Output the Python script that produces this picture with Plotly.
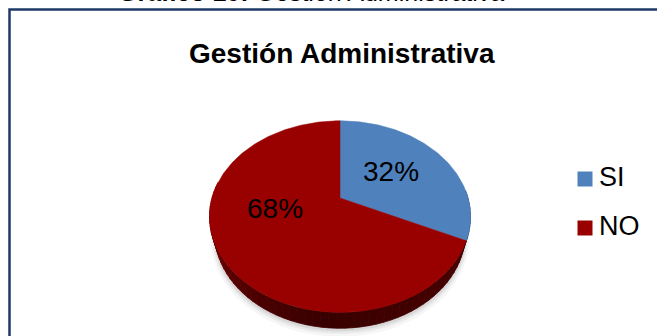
import numpy as np
import plotly.graph_objects as go

# ---- data ----
categories = ["SI", "NO"]
values = [32, 68]
value_labels = ["32%", "68%"]
chart_title = "Gestión Administrativa"
figure_caption = "<b>Gráfico 10:</b> Gestión Administrativa"

# ---- styles ----
top_colors = ["#4F81BD", "#990000"]
side_color_stops = {
    "SI": ([85, 120], ["#3a5f8c", "#2e4d73"]),
    "NO": ([100, 150, 185, 215, 260, 280], ["#4a0000", "#420000", "#380000", "#4c0000", "#760000", "#7a0000"]),
}
FONT = "Arial, Liberation Sans, sans-serif"
W, H = 657, 336

# ---- perspective projection of the pie disk ----
CX, CY = 340.0, 198.0
K, D = 457.0, 3.57
SN = 0.72
CS = np.sqrt(1 - SN ** 2)
THICK = 0.204


def proj(theta, up=0.0, r=1.0):
    X = r * np.sin(theta)
    Z = r * np.cos(theta)
    yc = up * CS + Z * SN
    depth = D + Z * CS - up * SN
    return CX + K * X / depth, CY - K * yc / depth


def hex2rgb(h):
    h = h.lstrip("#")
    return np.array([int(h[i:i + 2], 16) for i in (0, 2, 4)], dtype=float)


def interp_color(deg, stops, cols):
    rgbs = np.array([hex2rgb(c) for c in cols])
    r = [np.interp(deg, stops, rgbs[:, k]) for k in range(3)]
    return "rgb(%d,%d,%d)" % tuple(int(round(v)) for v in r)


fig = go.Figure()

total = float(sum(values))
fracs = np.array(values) / total
bounds = np.concatenate([[0.0], np.cumsum(fracs)]) * 2 * np.pi

# soft shadow under the pie
for grow, shift, alpha in [(1.035, 4, 0.035), (1.02, 3, 0.05), (1.01, 2, 0.07)]:
    th = np.linspace(0, 2 * np.pi, 240)
    bx, by = proj(th, -THICK)
    fig.add_trace(go.Scatter(
        x=CX + (bx - CX) * grow, y=(by - CY) * grow + CY + shift,
        mode="lines", fill="toself", fillcolor="rgba(0,0,0,%g)" % alpha,
        line=dict(width=0), hoverinfo="skip", showlegend=False))

# side walls (front part only is visible)
vis_lo, vis_hi = np.deg2rad(85), np.deg2rad(280)
step = np.deg2rad(3)
for cat, a, b in zip(categories, bounds[:-1], bounds[1:]):
    lo, hi = max(a, vis_lo), min(b, vis_hi)
    if hi <= lo:
        continue
    n = int(np.ceil((hi - lo) / step))
    edges = np.linspace(lo, hi, n + 1)
    stops, cols = side_color_stops[cat]
    for t0, t1 in zip(edges[:-1], edges[1:]):
        th = np.linspace(t0, t1, 4)
        tx, ty = proj(th, 0.0)
        bx, by = proj(th[::-1], -THICK)
        col = interp_color(np.rad2deg((t0 + t1) / 2), stops, cols)
        fig.add_trace(go.Scatter(
            x=np.concatenate([tx, bx, tx[:1]]), y=np.concatenate([ty, by, ty[:1]]),
            mode="lines", fill="toself", fillcolor=col,
            line=dict(width=0.8, color=col), hoverinfo="skip", showlegend=False))

# top faces
for cat, a, b, col in zip(categories, bounds[:-1], bounds[1:], top_colors):
    th = np.linspace(a, b, max(8, int(np.degrees(b - a))))
    ax_, ay_ = proj(th, 0.0)
    fig.add_trace(go.Scatter(
        x=np.concatenate([[CX], ax_, [CX]]), y=np.concatenate([[CY], ay_, [CY]]),
        mode="lines", fill="toself", fillcolor=col,
        line=dict(width=0.5, color=col), hoverinfo="skip", showlegend=False))

# percentage labels (radius fraction and angle shift from the slice mid-angle)
label_r = [0.524, 0.508]
label_shift_deg = [-3.9, 20.3]
for lab, a, b, r, sh in zip(value_labels, bounds[:-1], bounds[1:], label_r, label_shift_deg):
    mid = (a + b) / 2 + np.deg2rad(sh)
    lx, ly = proj(mid, 0.0, r)
    fig.add_annotation(x=lx, y=ly, text=lab, showarrow=False,
                       font=dict(family=FONT, size=28, color="#000000"),
                       xanchor="center", yanchor="middle")

# legend (keys + names)
LEG_X, LEG_Y0, LEG_DY = 585, 179, 49
for i, (cat, col) in enumerate(zip(categories, top_colors)):
    fig.add_trace(go.Scatter(
        x=[LEG_X], y=[LEG_Y0 + i * LEG_DY], mode="markers",
        marker=dict(symbol="square", size=15, color=col, line=dict(width=0)),
        hoverinfo="skip", showlegend=False))
    fig.add_annotation(x=LEG_X + 12, y=LEG_Y0 + i * LEG_DY - 2, text=cat, showarrow=False,
                       font=dict(family=FONT, size=27, color="#000000"),
                       xanchor="left", yanchor="middle")

# chart title and cut-off caption
fig.add_annotation(x=342, y=53.5, text="<b>%s</b>" % chart_title, showarrow=False,
                   font=dict(family=FONT, size=28, color="#000000"),
                   xanchor="center", yanchor="middle")
fig.add_annotation(x=311, y=8, text=figure_caption, showarrow=False,
                   font=dict(family=FONT, size=25, color="#000000"),
                   xanchor="center", yanchor="bottom")

# frame
fig.add_shape(type="rect", x0=9.5, y0=9.5, x1=680, y1=360,
              line=dict(color="#1F3A68", width=2.5), fillcolor="rgba(0,0,0,0)",
              layer="above")

fig.update_layout(
    width=W, height=H,
    margin=dict(l=0, r=0, t=0, b=0),
    paper_bgcolor="white", plot_bgcolor="white",
    xaxis=dict(range=[0, W], visible=False, fixedrange=True),
    yaxis=dict(range=[H, 0], visible=False, fixedrange=True),
    showlegend=False,
    hovermode=False,
)

fig.write_html("out.html")
